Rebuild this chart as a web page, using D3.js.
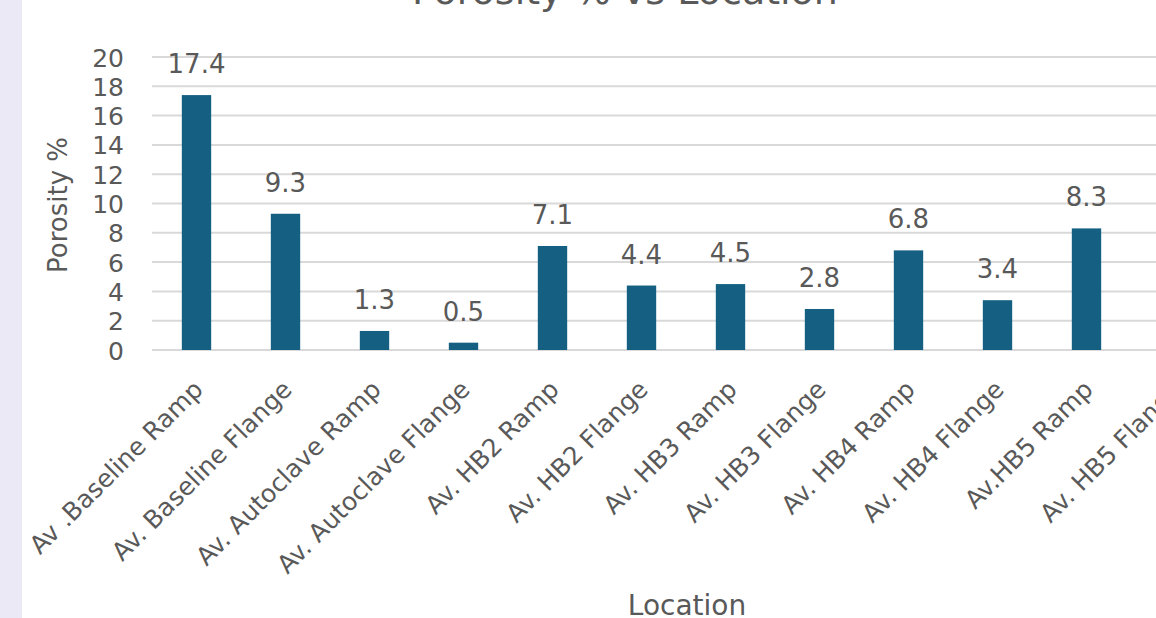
<!DOCTYPE html>
<html>
<head>
<meta charset="utf-8">
<script src="https://cdn.jsdelivr.net/npm/d3@7"></script>
<style>
  html, body { margin: 0; padding: 0; background: #ffffff; }
  svg { display: block; }
</style>
</head>
<body>
<svg id="chart" width="1156" height="618"></svg>
<script>
// Average porosity per sample location
const categories = [
  "Av .Baseline Ramp", "Av. Baseline Flange", "Av. Autoclave Ramp", "Av. Autoclave Flange",
  "Av. HB2 Ramp", "Av. HB2 Flange", "Av. HB3 Ramp", "Av. HB3 Flange",
  "Av. HB4 Ramp", "Av. HB4 Flange", "Av.HB5 Ramp", "Av. HB5 Flange"
];
const porosity = [17.4, 9.3, 1.3, 0.5, 7.1, 4.4, 4.5, 2.8, 6.8, 3.4, 8.3, 3.1];
const yTicks = [0, 2, 4, 6, 8, 10, 12, 14, 16, 18, 20];

const titleText = "Porosity % vs Location";
const xTitle = "Location";
const yTitle = "Porosity %";

const svg = d3.select("#chart");
const W = 1156, H = 618;
const textColor = "#595959";
const gridColor = "#d9d9d9";
const barColor = "#156082";
const font = "'DejaVu Sans', 'Noto Sans', sans-serif";

// page margin strip on the left
svg.append("rect").attr("x", 0).attr("y", 0).attr("width", 22).attr("height", H)
  .attr("fill", "#ebe9f6");

// plot area runs past the right edge of the page
const plotLeft = 152, plotRight = 1220;
const x = d3.scaleBand().domain(categories).range([plotLeft, plotRight])
  .paddingInner(0.67).paddingOuter(0.335);
const y = d3.scaleLinear().domain([0, 20]).range([350, 57]);

// gridlines
svg.append("g").selectAll("line").data(yTicks).join("line")
  .attr("x1", plotLeft).attr("x2", plotRight)
  .attr("y1", d => y(d)).attr("y2", d => y(d))
  .attr("stroke", gridColor).attr("stroke-width", 2);

// y axis labels
const yAxis = d3.axisLeft(y).tickValues(yTicks).tickSize(0).tickPadding(0);
const gy = svg.append("g").attr("transform", "translate(124,0)").call(yAxis);
gy.select(".domain").remove();
gy.selectAll("text").attr("font-family", font).attr("font-size", 25)
  .attr("fill", textColor).attr("dy", "0.36em");

// bars
svg.append("g").selectAll("rect").data(porosity).join("rect")
  .attr("x", (d, i) => x(categories[i]))
  .attr("width", x.bandwidth())
  .attr("y", d => y(d))
  .attr("height", d => y(0) - y(d))
  .attr("fill", barColor);

// value labels
svg.append("g").selectAll("text").data(porosity).join("text")
  .attr("x", (d, i) => x(categories[i]) + x.bandwidth() / 2)
  .attr("y", d => y(d) - 22)
  .attr("text-anchor", "middle")
  .attr("font-family", font).attr("font-size", 26)
  .attr("fill", textColor)
  .text(d => d.toFixed(1));

// x axis category labels, rotated
const xAxis = d3.axisBottom(x).tickSize(0).tickPadding(0);
const gx = svg.append("g").attr("transform", "translate(0,350)").call(xAxis);
gx.select(".domain").remove();
gx.selectAll("text")
  .attr("font-family", font).attr("font-size", 25).attr("fill", textColor)
  .attr("text-anchor", "end").attr("dy", null).attr("y", null)
  .attr("transform", "translate(8,41) rotate(-45)");

// axis titles
svg.append("text").attr("x", 687).attr("y", 615).attr("text-anchor", "middle")
  .attr("font-family", font).attr("font-size", 28).attr("fill", textColor)
  .text(xTitle);
svg.append("text").attr("transform", "translate(67,205) rotate(-90)")
  .attr("text-anchor", "middle")
  .attr("font-family", font).attr("font-size", 26).attr("fill", textColor)
  .text(yTitle);

// chart title, mostly above the page top
svg.append("text").attr("x", 625).attr("y", 4).attr("text-anchor", "middle")
  .attr("font-family", font).attr("font-size", 38).attr("fill", textColor)
  .text(titleText);
</script>
</body>
</html>
